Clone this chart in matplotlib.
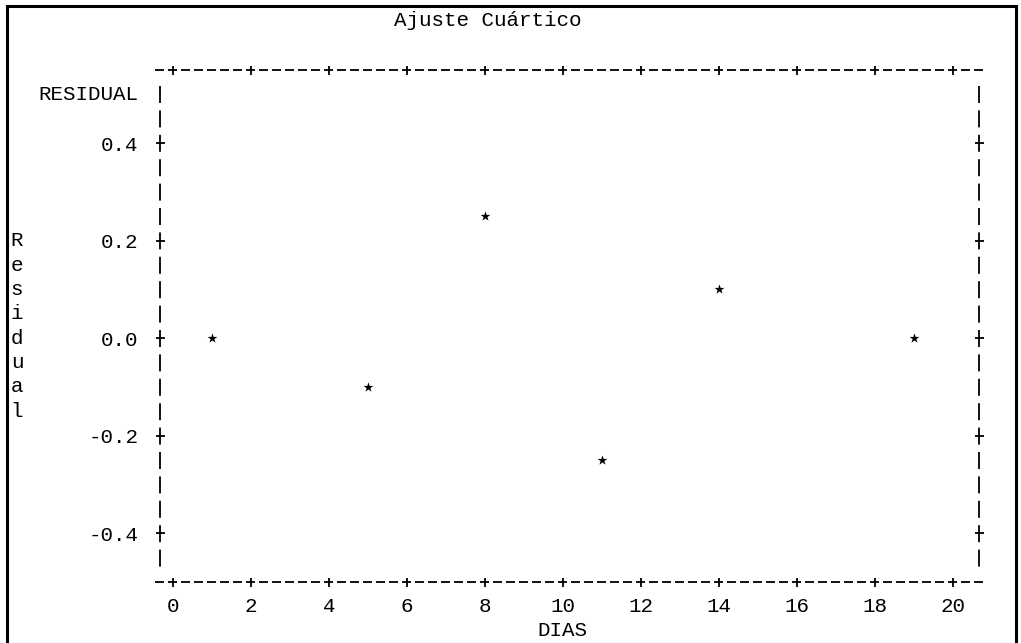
import matplotlib
matplotlib.use("Agg")
import matplotlib.pyplot as plt
import matplotlib.transforms as mtransforms
from matplotlib.patches import Rectangle

# data
dias = [1, 5, 8, 11, 14, 19]
residual = [0.0, -0.10, 0.25, -0.25, 0.10, 0.0]

x_ticks = list(range(0, 21, 2))
y_ticks = [-0.4, -0.2, 0.0, 0.2, 0.4]
y_tick_labels = ["-0.4", "-0.2", "0.0", "0.2", "0.4"]

title = "Ajuste Cuártico"
x_label = "DIAS"
y_label_top = "RESIDUAL"
y_label_side = "Residual"

plt.rcParams["font.family"] = ["Liberation Mono", "DejaVu Sans Mono"]
plt.rcParams["axes.unicode_minus"] = False
plt.rcParams["lines.scale_dashes"] = False

FS = 15
PX = 72 / 100  # points per pixel at dpi 100

fig = plt.figure(figsize=(10.21, 6.43), dpi=100)
ax = fig.add_axes([0.1567, 0.0952, 0.8017, 0.7955])

x_lo, x_hi = -1 / 3, 20 + 2 / 3
y_lo, y_hi = -0.5, 0.55
ax.set_xlim(x_lo, x_hi)
ax.set_ylim(y_lo, y_hi)

for s in ax.spines.values():
    s.set_visible(False)

# line printer style frame: dashed rows top/bottom, broken bars left/right
row = 0.05
for yy in (y_lo, y_hi):
    ax.plot([x_lo - 1 / 6 + 2 / 39, x_hi + 1 / 6], [yy, yy], color="black",
            lw=1.3, dashes=(9 * PX, 4 * PX), clip_on=False,
            dash_capstyle="butt")
for xx in (x_lo, x_hi):
    ax.plot([xx, xx], [y_hi - row / 2 - 0.0076, y_lo + row / 2], color="black",
            lw=1.3, dashes=(17 * PX, 7.4 * PX), clip_on=False,
            dash_capstyle="butt")

ax.set_xticks(x_ticks)
ax.set_yticks(y_ticks)
ax.set_yticklabels(y_tick_labels)
ax.tick_params(axis="both", direction="inout", length=9 * PX, width=1.3,
               color="black", labelsize=FS, top=True, right=True)
ax.tick_params(axis="y", pad=12.5)
ax.tick_params(axis="x", pad=7.5)

ax.scatter(dias, residual, marker="*", s=55, color="black", linewidths=0, zorder=3)

# axis captions placed on the text rows
ax.text(-0.027, 0.5, y_label_top, transform=ax.get_yaxis_transform(),
        ha="right", va="center", fontsize=FS)
ax.text(10, y_lo - 2 * row, x_label, ha="center", va="center", fontsize=FS,
        clip_on=False)

side = mtransforms.blended_transform_factory(fig.transFigure, ax.transData)
for i, ch in enumerate(y_label_side):
    ax.text(17 / 1021, 0.2 - i * row, ch, transform=side, ha="center",
            va="center", fontsize=FS, clip_on=False)

fig.text(487.5 / 1021, 1 - 21 / 643, title, ha="center", va="center", fontsize=FS)

fig.patches.append(Rectangle((6.5 / 1021, -0.05), 1009.5 / 1021, 1.05 - 5.5 / 643,
                             transform=fig.transFigure, fill=False,
                             edgecolor="black", lw=2.2))

fig.savefig("out.png", dpi=100)
